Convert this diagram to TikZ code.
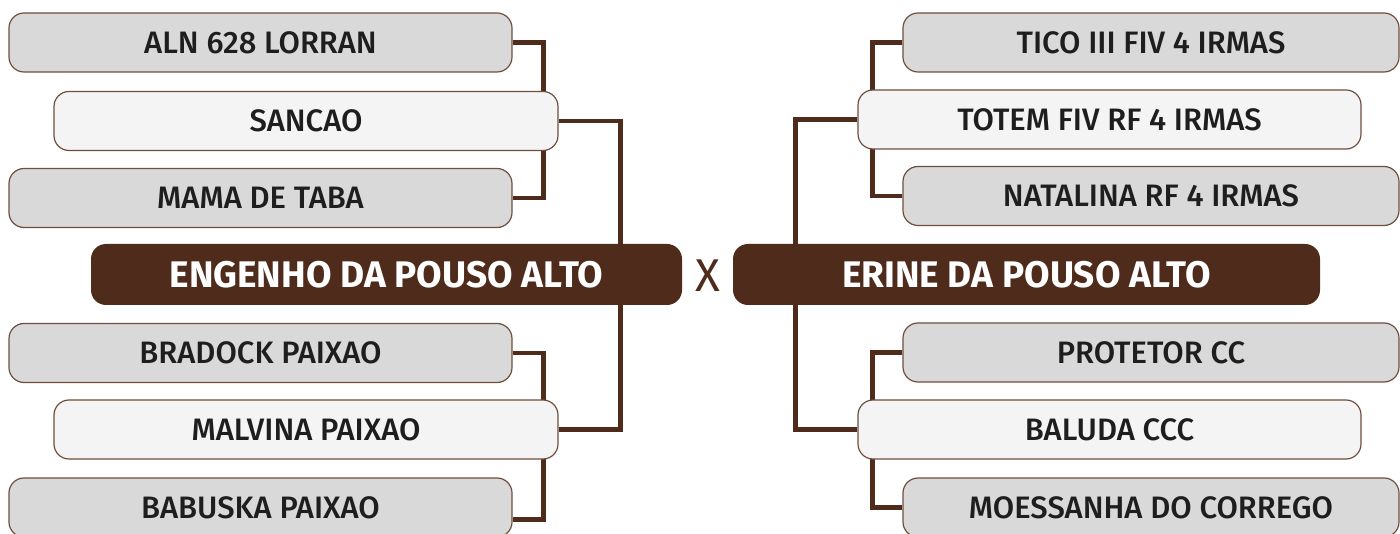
\documentclass[tikz,border=0pt]{standalone}
\usepackage{fontspec}
\setmainfont{Fira Sans}
\newfontfamily\labelfont{Fira Sans}[UprightFont={* Medium}]
\usetikzlibrary{backgrounds}
\definecolor{brownline}{RGB}{78,43,27}
\definecolor{boxgray}{RGB}{217,217,217}
\definecolor{boxlight}{RGB}{244,244,244}
\definecolor{boxedge}{RGB}{110,78,62}
\definecolor{labeltext}{RGB}{30,30,30}
\begin{document}
\begin{tikzpicture}[x=1pt,y=-1pt,
	outerbox/.style={draw=boxedge,line width=1.2pt,fill=boxgray,rounded corners=15pt,
	  minimum height=59pt,text=labeltext,font=\fontsize{31}{36}\labelfont,inner sep=0pt},
	innerbox/.style={outerbox,fill=boxlight},
	mainbox/.style={fill=brownline,rounded corners=15pt,minimum height=61pt,text=white,
	  font=\fontsize{37}{40}\selectfont\bfseries,inner sep=0pt},
	link/.style={draw=brownline,line width=4.5pt}]
	\useasboundingbox (0,0) rectangle (1400,534);
	\clip (0,0) rectangle (1400,534);
	
	%left side
	\node[outerbox,minimum width=503pt] (aln) at (260.5,42.5) {ALN 628 LORRAN};
	\node[innerbox,minimum width=504pt] (sancao) at (306,121) {SANCAO};
	\node[outerbox,minimum width=503pt] (mama) at (260.5,198) {MAMA DE TABA};
	\node[mainbox,minimum width=591pt] (engenho) at (386.5,274.5) {ENGENHO DA POUSO ALTO};
	\node[outerbox,minimum width=503pt] (bradock) at (260.5,353) {BRADOCK PAIXAO};
	\node[innerbox,minimum width=504pt] (malvina) at (306,429.5) {MALVINA PAIXAO};
	\node[outerbox,minimum width=503pt] (babuska) at (260.5,507.5) {BABUSKA PAIXAO};
	
	%versus
	\node[text=brownline,font=\fontsize{46}{50}\selectfont] (versus) at (707.5,275.5) {X};
	
	%right side
	\node[outerbox,minimum width=496pt] (tico) at (1151,42.5) {TICO III FIV 4 IRMAS};
	\node[innerbox,minimum width=503pt] (totem) at (1109.5,119.5) {TOTEM FIV RF 4 IRMAS};
	\node[outerbox,minimum width=496pt] (natalina) at (1151,196) {NATALINA RF 4 IRMAS};
	\node[mainbox,minimum width=587pt] (erine) at (1026.5,274.5) {ERINE DA POUSO ALTO};
	\node[outerbox,minimum width=496pt] (protetor) at (1151,352.5) {PROTETOR CC};
	\node[innerbox,minimum width=503pt] (baluda) at (1109.5,429.5) {BALUDA CCC};
	\node[outerbox,minimum width=496pt] (moessanha) at (1151,507.5) {MOESSANHA DO CORREGO};
	
	%connectors, behind the boxes
	\begin{scope}[on background layer]
	\draw[link] (aln.east) -- ++(31,0) |- (mama.east);
	\draw[link] (bradock.east) -- ++(31,0) |- ([yshift=-12pt]babuska.east);
	\draw[link] (sancao.east) -- ++(62,0) |- (malvina.east); %left parent
	\draw[link] (tico.west) -- ++(-30,0) |- (natalina.west);
	\draw[link] (protetor.west) -- ++(-30,0) |- (moessanha.west);
	\draw[link] (totem.west) -- ++(-62,0) |- (baluda.west); %right parent
	\end{scope}
\end{tikzpicture}
\end{document}
